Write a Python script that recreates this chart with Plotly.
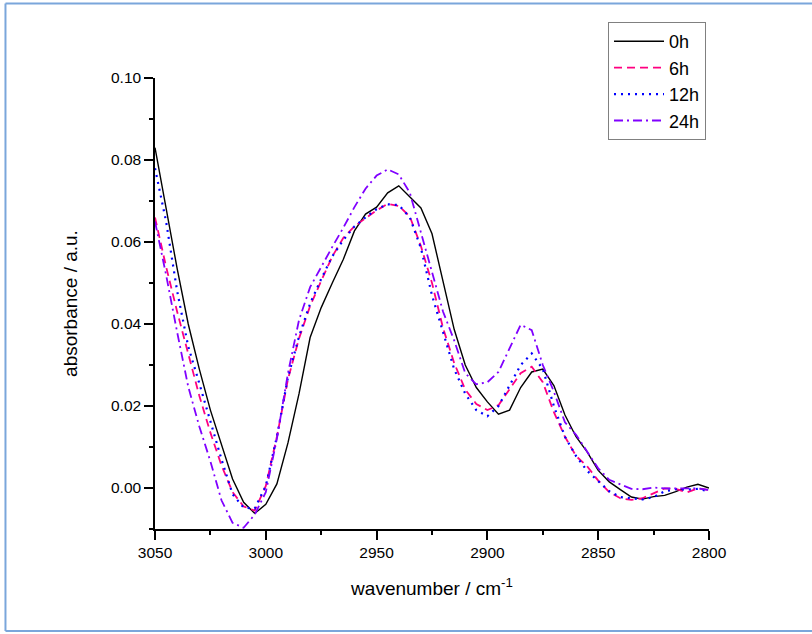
import plotly.graph_objects as go

wavenumber = [3050, 3045, 3040, 3035, 3030, 3025, 3020, 3015, 3010, 3005, 3000,
              2995, 2990, 2985, 2980, 2975, 2970, 2965, 2960, 2955, 2950,
              2945, 2940, 2935, 2930, 2925, 2920, 2915, 2910, 2905, 2900,
              2895, 2890, 2885, 2880, 2875, 2870, 2865, 2860, 2855, 2850,
              2845, 2840, 2835, 2830, 2825, 2820, 2815, 2810, 2805, 2800]

abs_0h = [0.083, 0.0685, 0.0535, 0.040, 0.029, 0.019, 0.0105, 0.0022, -0.0035, -0.0062, -0.004,
          0.001, 0.011, 0.023, 0.0367, 0.044, 0.050, 0.0558, 0.0627, 0.0668, 0.0685,
          0.072, 0.0737, 0.0711, 0.0683, 0.062, 0.050, 0.0387, 0.030, 0.0245, 0.021,
          0.018, 0.019, 0.0245, 0.0283, 0.029, 0.025, 0.0178, 0.0125, 0.0088, 0.0043,
          0.0015, -0.0004, -0.0022, -0.0027, -0.0021, -0.0018, -0.0009, 0.0002, 0.0009, 0.0]

abs_6h = [0.066, 0.054, 0.043, 0.033, 0.0225, 0.0135, 0.0055, -0.001, -0.0045, -0.0055, 0.0005,
          0.0125, 0.0265, 0.0365, 0.0444, 0.0505, 0.0565, 0.061, 0.0638, 0.0658, 0.0677,
          0.0693, 0.0688, 0.0662, 0.059, 0.050, 0.039, 0.0305, 0.024, 0.0205, 0.019,
          0.0202, 0.024, 0.028, 0.0296, 0.0258, 0.0185, 0.0125, 0.0078, 0.0053, 0.0018,
          -0.001, -0.0025, -0.0029, -0.0025, -0.0012, -0.0001, -0.0002, -0.0011, -0.0001, -0.0005]

abs_12h = [0.078, 0.065, 0.048, 0.0345, 0.0255, 0.016, 0.007, -0.0015, -0.0048, -0.005, 0.0005,
           0.0125, 0.027, 0.037, 0.045, 0.051, 0.0565, 0.0605, 0.0638, 0.066, 0.068,
           0.0692, 0.069, 0.066, 0.0585, 0.047, 0.038, 0.029, 0.023, 0.019, 0.0175,
           0.020, 0.025, 0.030, 0.0328, 0.029, 0.020, 0.0125, 0.0078, 0.0042, 0.0017,
           -0.0008, -0.0022, -0.0025, -0.0028, -0.0022, -0.0008, -0.0003, -0.0004, -0.0002, -0.0008]

abs_24h = [0.065, 0.052, 0.038, 0.0247, 0.015, 0.0065, -0.003, -0.0085, -0.0097, -0.0065, -0.001,
           0.012, 0.028, 0.041, 0.049, 0.054, 0.0588, 0.0635, 0.0685, 0.073, 0.0762,
           0.0777, 0.0765, 0.072, 0.0622, 0.053, 0.043, 0.036, 0.028, 0.0253, 0.0258,
           0.0283, 0.034, 0.0398, 0.0385, 0.030, 0.0235, 0.016, 0.013, 0.009, 0.0048,
           0.002, 0.0008, -0.0002, -0.0003, 0.0001, -0.0001, -0.0001, 0.0, -0.0001, -0.0005]

series_names = ["0h", "6h", "12h", "24h"]
series_values = [abs_0h, abs_6h, abs_12h, abs_24h]
series_colors = ["#000000", "#FF0080", "#0000FF", "#8000FF"]
series_dash = ["solid", "8px,5px", "2px,5px", "9px,4px,2px,4px"]
series_width = [1.4, 1.8, 2.2, 1.8]

FONT = "Arial, Liberation Sans, sans-serif"

fig = go.Figure()
for name, vals, col, dash, w in zip(series_names, series_values, series_colors, series_dash, series_width):
    fig.add_trace(go.Scatter(x=wavenumber, y=vals, mode="lines", name=name,
                             line=dict(color=col, dash=dash, width=w)))

axis_common = dict(showgrid=False, zeroline=False, showline=True, linecolor="black", linewidth=1.5,
                   ticks="outside", ticklen=9, tickwidth=1.5, tickcolor="black",
                   tickfont=dict(family=FONT, size=15.5, color="black"))

fig.update_xaxes(range=[3050, 2800], tick0=2800, dtick=50,
                 minor=dict(dtick=25, ticks="outside", ticklen=4, tickwidth=1.5, tickcolor="black"),
                 title=dict(text="wavenumber / cm<sup>-1</sup>", font=dict(family=FONT, size=19, color="black"), standoff=21),
                 **axis_common)
fig.update_yaxes(range=[-0.01, 0.10], tick0=0, dtick=0.02, tickformat=".2f",
                 minor=dict(dtick=0.01, ticks="outside", ticklen=4, tickwidth=1.5, tickcolor="black"),
                 title=dict(text="absorbance / a.u.", font=dict(family=FONT, size=19, color="black"), standoff=28),
                 **axis_common)

frame_line = dict(color="#7aa6db", width=2)
fig.update_layout(
    width=812, height=634,
    margin=dict(l=155, r=103, t=78, b=105),
    plot_bgcolor="white", paper_bgcolor="white",
    font=dict(family=FONT, color="black"),
    legend=dict(x=0.8177, y=1.124, xanchor="left", yanchor="top",
                bordercolor="#808080", borderwidth=1, bgcolor="white",
                font=dict(family=FONT, size=18, color="black"),
                tracegroupgap=0, itemwidth=50),
    shapes=[
        dict(type="line", xref="paper", yref="paper", x0=-0.2699, x1=1.3, y0=1.1652, y1=1.1652, line=frame_line, layer="below"),
        dict(type="line", xref="paper", yref="paper", x0=-0.2699, x1=-0.2699, y0=-0.2262, y1=1.1652, line=frame_line, layer="below"),
        dict(type="line", xref="paper", yref="paper", x0=-0.2699, x1=1.3, y0=-0.2262, y1=-0.2262, line=frame_line, layer="below"),
    ],
)

fig.write_html("out.html", config={"displayModeBar": False},
               post_script="document.body.style.margin='0';document.body.style.overflow='hidden';")
